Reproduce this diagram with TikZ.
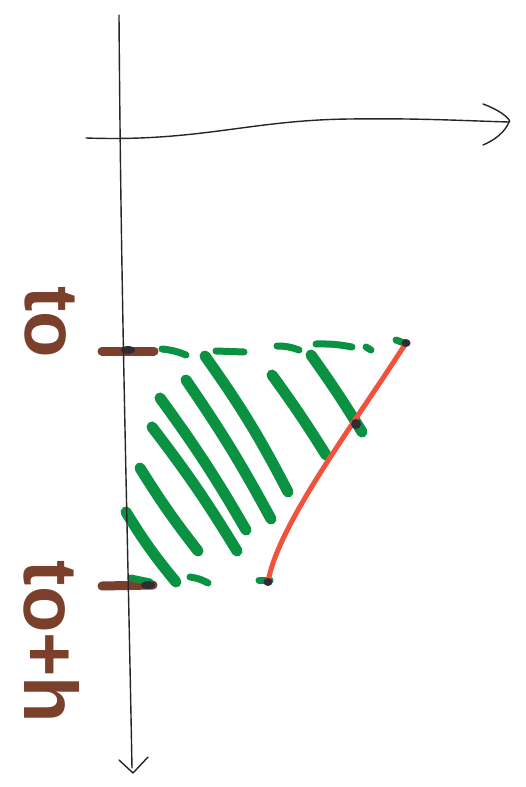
\documentclass[tikz,border=0pt]{standalone}
\usepackage{fontspec}
\setmainfont{Liberation Sans}
\definecolor{mkgreen}{RGB}{10,146,66}
\definecolor{mkred}{RGB}{240,82,62}
\definecolor{mkbrown}{RGB}{122,64,44}
\definecolor{mkdark}{RGB}{45,45,50}
\tikzset{
  axisline/.style={line width=1.4pt, black!85, line cap=round, line join=round},
  hatch/.style={line width=11pt, mkgreen, line cap=round},
  gdash/.style={line width=7pt, mkgreen, line cap=round},
  tickmark/.style={line width=9pt, mkbrown, line cap=round},
  lbl/.style={text=mkbrown, font=\bfseries\fontsize{76}{76}\selectfont, rotate=-90, inner sep=0pt},
  dot/.style={fill=mkdark, ellipse, inner sep=0pt, minimum width=9pt, minimum height=8pt}
}
\usetikzlibrary{shapes.geometric}
\begin{document}
\begin{tikzpicture}[x=1pt,y=-1pt]
\useasboundingbox (0,0) rectangle (525,787);
\fill[white] (0,0) rectangle (525,787);

% coordinates
\coordinate (vtop) at (119,15);
\coordinate (vbot) at (132,768);
\coordinate (hleft) at (86,138);
\coordinate (htip) at (509,122);
\coordinate (t0a) at (102,351);
\coordinate (t0b) at (154,351);
\coordinate (t1a) at (102,586);
\coordinate (t1b) at (153,585);
\coordinate (rbot) at (268,582);
\coordinate (rtop) at (406,343);
\coordinate (rmid) at (356,424);

% brown ticks
\draw[tickmark] (t0a) -- (t0b);
\draw[tickmark] (t1a) -- (t1b);

% green dashed top and bottom
\draw[gdash] (162,349) to[bend left=8] (186,355);
\draw[gdash] (216,351) -- (244,352);
\draw[gdash] (277,346) to[bend left=10] (299,350);
\draw[gdash] (316,344) to[bend left=6] (352,347);
\draw[gdash] (366,347) -- (371,350);
\draw[gdash] (396,340) -- (404,343);
\draw[gdash] (131,578) -- (150,582);
\draw[gdash] (190,577) to[bend left=10] (208,583);
\draw[gdash] (259,580) -- (270,580);

% hatch strokes
\draw[hatch] (126,512) to[bend right=4] (176,582);
\draw[hatch] (140,468) to[bend right=3] (198,551);
\draw[hatch] (152,427) to[bend left=3] (237,551);
\draw[hatch] (160,398) to[bend left=3] (246,530);
\draw[hatch] (186,380) to[bend left=3] (271,519);
\draw[hatch] (205,356) to[bend left=4] (288,492);
\draw[hatch] (272,375) to[bend left=2] (326,455);
\draw[hatch] (311,355) to[bend left=2] (362,432);

% red curve
\draw[mkred, line width=5pt, line cap=round]
  (rbot) .. controls (278,525) and (350,430) .. (rtop);

% dark marks
\node[dot] (d1) at (rtop) {};
\node[dot] (d2) at (rbot) {};
\node[dot, minimum width=10pt, minimum height=10pt, rotate=45] (d3) at (rmid) {};
\node[dot, minimum width=14pt, minimum height=8pt] (d4) at (128,350) {};
\node[dot, minimum width=14pt, minimum height=8pt] (d5) at (148,585) {};

% vertical axis
\draw[axisline] (vtop) .. controls (121,300) and (127,500) .. (vbot);
\coordinate (vl) at (119,760);
\coordinate (vr) at (148,757);
\draw[axisline] (vl) -- (133,773) -- (vr);

% horizontal axis
\draw[axisline] (hleft) .. controls (200,142) and (250,120) .. (350,119) .. controls (420,118) and (470,121) .. (htip);
\coordinate (ha) at (483,104);
\coordinate (hb) at (483,145);
\draw[axisline] (ha) .. controls (505,112) and (512,122) .. (htip) .. controls (505,132) and (495,140) .. (hb);

% labels
\node[lbl] (lab0) at (50,322) {to};
\node[lbl] (lab1) at (52,642) {to+h};
\end{tikzpicture}
\end{document}
